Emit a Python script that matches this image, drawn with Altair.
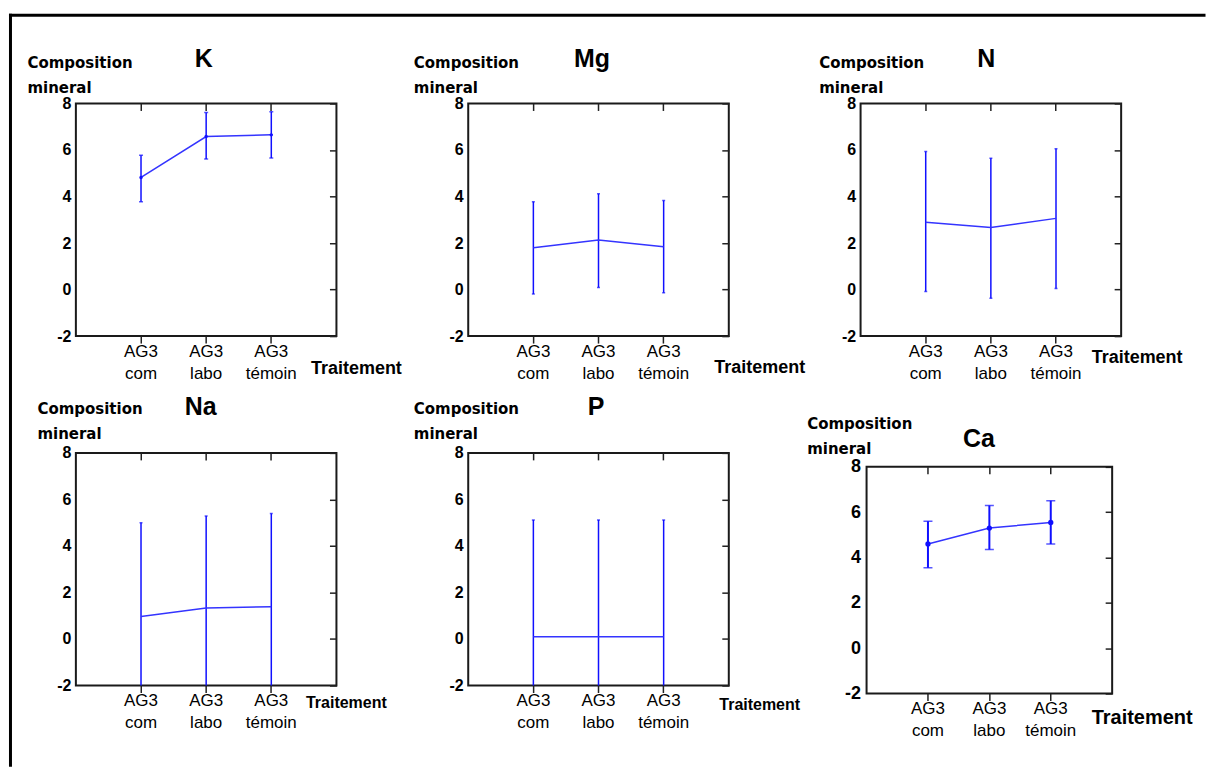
import altair as alt
import pandas as pd

categories = ["AG3 com", "AG3 labo", "AG3 témoin"]
y_ticks = [-2, 0, 2, 4, 6, 8]

K_mean = [4.82, 6.58, 6.65]
K_low = [3.77, 5.61, 5.66]
K_high = [5.77, 7.61, 7.64]

Mg_mean = [1.80, 2.13, 1.84]
Mg_low = [-0.19, 0.09, -0.14]
Mg_high = [3.77, 4.12, 3.83]

N_mean = [2.89, 2.67, 3.06]
N_low = [-0.08, -0.37, 0.05]
N_high = [5.94, 5.65, 6.05]

Na_mean = [0.97, 1.33, 1.39]
Na_low = [-3.06, -2.63, -2.61]
Na_high = [5.00, 5.29, 5.39]

P_mean = [0.10, 0.10, 0.10]
P_low = [-4.91, -4.91, -4.91]
P_high = [5.11, 5.11, 5.11]

Ca_mean = [4.60, 5.30, 5.55]
Ca_low = [3.55, 4.35, 4.60]
Ca_high = [5.60, 6.30, 6.50]

BLUE = "#1010ff"
LINE_BLUE = "#3434ff"
TICK = "#222222"
NARROW = "Liberation Sans Narrow, Liberation Sans, Arial"
SANS = "Liberation Sans, Arial"


def make_panel(name, mean, low, high, o):
    df = pd.DataFrame({"Traitement": categories, "mean": mean, "low": low, "high": high})
    xs_kw = {"domain": categories, "padding": 1}
    if "xr" in o:
        xs_kw["range"] = o["xr"]
    ys_kw = {"domain": [-2, 8], "nice": False, "zero": False}
    if "yr" in o:
        ys_kw["range"] = o["yr"]
    xs = alt.Scale(**xs_kw)
    ys = alt.Scale(**ys_kw)

    bottom = alt.Axis(
        orient="bottom", title="Traitement", domain=False, ticks=True, tickSize=7,
        tickWidth=1.5, tickColor=TICK, labelExpr="split(datum.label, ' ')",
        labelFont=NARROW, labelFontSize=17, labelLineHeight=22, labelPadding=0,
        labelBaseline="top", labelAngle=0, labelColor="black",
        titleX=o["tx"][0], titleY=o["tx"][1], titleAlign="left", titleBaseline="middle",
        titleFont=SANS, titleFontWeight="bold", titleFontSize=o["tfs"], titleAngle=0,
        titleColor="black",
    )
    left = alt.Axis(
        orient="left", values=y_ticks, title=["Composition", "mineral"], domain=False,
        ticks=False, labelPadding=o.get("lpad", 5), labelFont=o.get("lfont", NARROW),
        labelFontSize=o.get("lfs", 16), labelFontWeight="bold", labelColor="black",
        labelExpr="'' + datum.value",
        titleAngle=0, titleAlign="left", titleBaseline="alphabetic",
        titleX=o["ty"][0], titleY=o["ty"][1], titleFont="DejaVu Sans",
        titleFontSize=15, titleFontWeight="bold", titleLineHeight=25, titleColor="black",
        offset=o.get("loff", 0),
    )
    top = alt.Axis(
        orient="top", title=name, labels=False, domain=False, ticks=True, tickSize=7,
        tickWidth=1.5, tickColor=TICK, offset=o.get("toff", -7),
        titleX=o["hx"], titleY=o["hy"], titleAlign="center", titleBaseline="alphabetic",
        titleAngle=0, titleFont=SANS, titleFontWeight="bold", titleFontSize=25,
        titleColor="black",
    )
    right = alt.Axis(
        orient="right", values=y_ticks, title=None, labels=False, domain=False,
        ticks=True, tickSize=7, tickWidth=1.5, tickColor=TICK, offset=-7,
    )

    def X(ax):
        return alt.X("Traitement:N", scale=xs, axis=ax, sort=categories)

    base = alt.Chart(df)
    bars = base.mark_rule(color=BLUE, strokeWidth=o.get("bw", 1.5), clip=True).encode(
        x=X(bottom), y=alt.Y("low:Q", scale=ys, axis=left), y2="high:Q"
    )
    cap_hi = base.mark_tick(color=BLUE, thickness=1.5, size=o["cap"], clip=True,
                            orient="horizontal").encode(x=X(None), y=alt.Y("high:Q", axis=None))
    cap_lo = base.mark_tick(color=BLUE, thickness=1.5, size=o["cap"], clip=True,
                            orient="horizontal").encode(x=X(None), y=alt.Y("low:Q", axis=None))
    line = base.mark_line(color=LINE_BLUE, strokeWidth=1.5, clip=True).encode(
        x=X(None), y=alt.Y("mean:Q", axis=None)
    )
    layers = [bars, cap_hi, cap_lo, line]
    if o.get("dots"):
        layers.append(base.mark_circle(color=BLUE, size=o["dots"], opacity=1).encode(
            x=X(None), y=alt.Y("mean:Q", axis=None)))
    guide = base.mark_point(opacity=0).encode(
        x=alt.X("Traitement:N", axis=top, sort=categories),
        y=alt.Y("mean:Q", axis=right))
    layers.append(guide)

    one = alt.Chart(pd.DataFrame({"a": [0]}))
    if o.get("border"):
        layers.append(one.mark_rule(color="black", strokeWidth=3, strokeCap="square").encode(
            x=alt.value(-65.5), y=alt.value(-88.3), y2=alt.value(663)))
        layers.append(one.mark_rule(color="black", strokeWidth=3, strokeCap="square").encode(
            y=alt.value(-88.3), x=alt.value(-65.5), x2=alt.value(1130)))
    if o.get("frame"):
        layers.append(one.mark_rect(filled=False, stroke="#1a1a1a", strokeWidth=2).encode(
            x=alt.value(o["frame"][0]), x2=alt.value(o["frame"][1]),
            y=alt.value(o["frame"][2]), y2=alt.value(o["frame"][3])))

    props = dict(width=o["W"], height=o["H"])
    if o.get("frame"):
        props["view"] = alt.ViewBackground(stroke="transparent")
    return alt.layer(*layers).resolve_axis(x="independent", y="independent").properties(**props)


pK = make_panel("K", K_mean, K_low, K_high, dict(
    W=261, H=233, tx=(235, 32), ty=(-49, -36), tfs=18, cap=4, dots=12,
    hx=127.5, hy=-44, border=True))
pMg = make_panel("Mg", Mg_mean, Mg_low, Mg_high, dict(
    W=261, H=233, tx=(246, 31), ty=(-55, -36), tfs=18, cap=3, hx=123.5, hy=-44))
pN = make_panel("N", N_mean, N_low, N_high, dict(
    W=261, H=233, tx=(231, 21), ty=(-42, -36), tfs=18, cap=3, hx=125.5, hy=-44))
pNa = make_panel("Na", Na_mean, Na_low, Na_high, dict(
    W=261, H=233, tx=(230, 17), ty=(-39, -39), tfs=16, cap=3, hx=124.5, hy=-45))
pP = make_panel("P", P_mean, P_low, P_high, dict(
    W=261, H=233, tx=(251, 19), ty=(-55, -39), tfs=16, cap=3, hx=127.5, hy=-45))
pCa = make_panel("Ca", Ca_mean, Ca_low, Ca_high, dict(
    W=252, H=241, xr=[6, 252], yr=[241, 14], tx=(231, 24), ty=(-60, -24), tfs=20,
    cap=9, dots=28, bw=2, hx=118, hy=-27, loff=-6, toff=-21, lpad=6,
    lfont=SANS, lfs=18, frame=(6, 252, 14, 241)))

chart = alt.concat(
    pK, pMg, pN, pNa, pP, pCa,
    columns=3,
    spacing={"row": 117, "column": 132},
    bounds="flush",
    align="each",
).properties(
    padding={"left": 7, "top": 11, "right": 0, "bottom": 0},
    background="white",
).configure_view(
    stroke="#1a1a1a", strokeWidth=2
).configure_axis(
    grid=False
)

chart.save("out.html", embed_options={"renderer": "svg", "actions": False})
